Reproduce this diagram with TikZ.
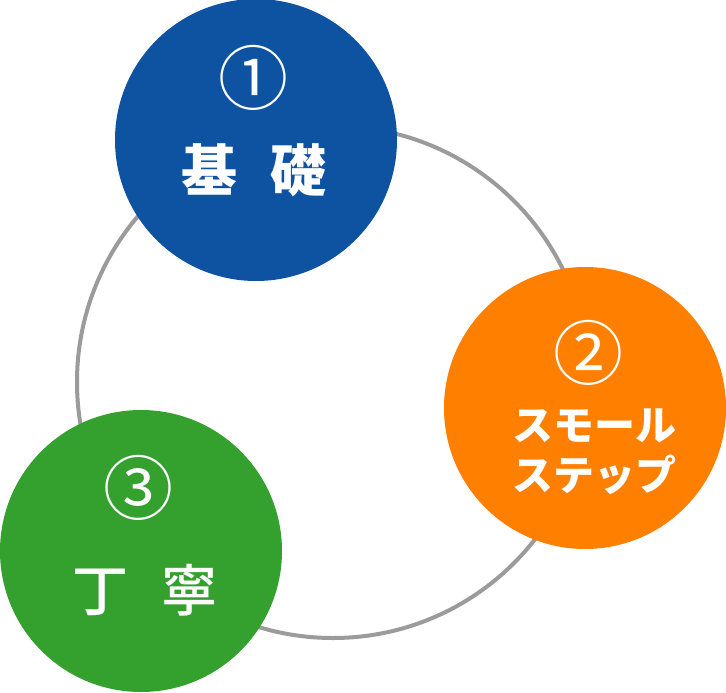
\documentclass[tikz,border=0pt]{standalone}
\usepackage{fontspec}
\setmainfont{Noto Sans CJK JP}
\newfontfamily\medfont{Noto Sans CJK JP Medium}
\definecolor{cblue}{RGB}{13,83,161}
\definecolor{corange}{RGB}{255,128,0}
\definecolor{cgreen}{RGB}{52,160,46}
\definecolor{cgray}{RGB}{155,155,155}
\begin{document}
\begin{tikzpicture}[x=1pt,y=-1pt,
  disc/.style={circle,minimum size=282pt,inner sep=0pt},
  num/.style={text=white,font=\fontsize{70}{70}\selectfont},
  lbl/.style={text=white,font=\medfont\fontsize{56}{56}\selectfont},
  kana/.style={text=white,font=\bfseries\fontsize{41}{50}\selectfont,align=center}]
\useasboundingbox (0,0) rectangle (726,693);
\node[circle,draw=cgray,line width=4pt,minimum size=512pt,inner sep=0pt] (ring) at (333,382) {};
\node[disc,fill=cblue] (c1) at (256,140) {};
\node[disc,fill=corange] (c2) at (585,408) {};
\node[disc,fill=cgreen] (c3) at (141,551) {};
\node[num] (n1) at (253,78) {①};
\node[lbl,font=\bfseries\fontsize{56}{56}\selectfont] (t1) at (254,170) {基\hspace{0.6em}礎};
\node[num] (n2) at (588,353) {②};
\node[kana] (t2) at (594,452) {スモール\\ステップ};
\node[num] (n3) at (138,488) {③};
\node[lbl] (t3) at (145,590) {丁\hspace{0.6em}寧};
\end{tikzpicture}
\end{document}
